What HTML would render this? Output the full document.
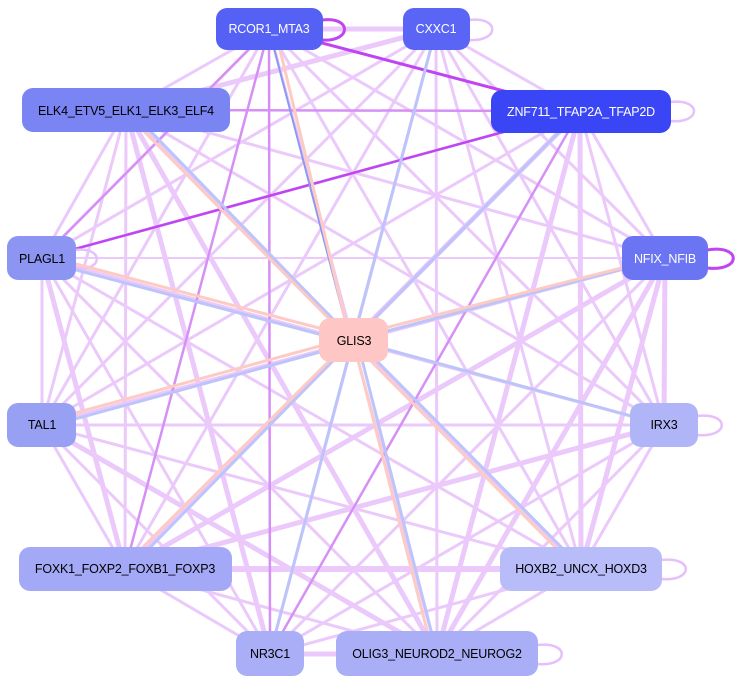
<!DOCTYPE html>
<html><head><meta charset="utf-8"><style>
html,body{margin:0;padding:0;background:#fff;}
svg{display:block;}
text{font-family:"Liberation Sans",sans-serif;font-size:12.5px;letter-spacing:-0.2px;}
</style></head><body>
<svg width="740" height="683" viewBox="0 0 740 683" xmlns="http://www.w3.org/2000/svg">
<g stroke="#ebc9fb" stroke-width="3" fill="none" stroke-linecap="round">
<line x1="269" y1="29" x2="436" y2="29" stroke-width="5"/>
<line x1="269" y1="29" x2="126" y2="110"/>
<line x1="269" y1="29" x2="42" y2="258"/>
<line x1="269" y1="29" x2="665" y2="258"/>
<line x1="269" y1="29" x2="42" y2="425"/>
<line x1="269" y1="29" x2="664" y2="425"/>
<line x1="269" y1="29" x2="581" y2="569"/>
<line x1="269" y1="29" x2="437" y2="654"/>
<line x1="436" y1="29" x2="126" y2="110" stroke-width="5"/>
<line x1="436" y1="29" x2="580" y2="111"/>
<line x1="436" y1="29" x2="42" y2="258"/>
<line x1="436" y1="29" x2="665" y2="258"/>
<line x1="436" y1="29" x2="42" y2="425"/>
<line x1="436" y1="29" x2="125" y2="569"/>
<line x1="436" y1="29" x2="581" y2="569"/>
<line x1="436" y1="29" x2="270" y2="654"/>
<line x1="436" y1="29" x2="437" y2="654"/>
<line x1="436" y1="29" x2="664" y2="425"/>
<line x1="126" y1="110" x2="42" y2="258"/>
<line x1="126" y1="110" x2="665" y2="258"/>
<line x1="126" y1="110" x2="42" y2="425"/>
<line x1="126" y1="110" x2="664" y2="425"/>
<line x1="126" y1="110" x2="125" y2="569"/>
<line x1="126" y1="110" x2="581" y2="569"/>
<line x1="126" y1="110" x2="270" y2="654" stroke-width="5"/>
<line x1="126" y1="110" x2="437" y2="654" stroke-width="5"/>
<line x1="580" y1="111" x2="42" y2="258"/>
<line x1="580" y1="111" x2="665" y2="258"/>
<line x1="580" y1="111" x2="42" y2="425"/>
<line x1="580" y1="111" x2="664" y2="425"/>
<line x1="580" y1="111" x2="125" y2="569" stroke-width="5"/>
<line x1="580" y1="111" x2="581" y2="569" stroke-width="5"/>
<line x1="580" y1="111" x2="437" y2="654" stroke-width="5"/>
<line x1="42" y1="258" x2="665" y2="258" stroke-width="2"/>
<line x1="42" y1="258" x2="42" y2="425"/>
<line x1="42" y1="258" x2="664" y2="425"/>
<line x1="42" y1="258" x2="125" y2="569" stroke-width="5"/>
<line x1="42" y1="258" x2="581" y2="569"/>
<line x1="42" y1="258" x2="270" y2="654"/>
<line x1="42" y1="258" x2="437" y2="654"/>
<line x1="665" y1="258" x2="664" y2="425" stroke-width="5"/>
<line x1="665" y1="258" x2="42" y2="425"/>
<line x1="665" y1="258" x2="125" y2="569" stroke-width="5"/>
<line x1="665" y1="258" x2="581" y2="569" stroke-width="5"/>
<line x1="665" y1="258" x2="270" y2="654"/>
<line x1="665" y1="258" x2="437" y2="654" stroke-width="5"/>
<line x1="42" y1="425" x2="664" y2="425"/>
<line x1="42" y1="425" x2="125" y2="569"/>
<line x1="42" y1="425" x2="581" y2="569"/>
<line x1="42" y1="425" x2="437" y2="654" stroke-width="5"/>
<line x1="42" y1="425" x2="270" y2="654"/>
<line x1="664" y1="425" x2="125" y2="569" stroke-width="5"/>
<line x1="664" y1="425" x2="581" y2="569"/>
<line x1="664" y1="425" x2="270" y2="654"/>
<line x1="664" y1="425" x2="437" y2="654"/>
<line x1="125" y1="569" x2="581" y2="569" stroke-width="6"/>
<line x1="125" y1="569" x2="270" y2="654"/>
<line x1="125" y1="569" x2="437" y2="654"/>
<line x1="581" y1="569" x2="270" y2="654"/>
<line x1="581" y1="569" x2="437" y2="654"/>
<line x1="270" y1="654" x2="437" y2="654" stroke-width="5"/>
</g>
<g stroke="#d690f5" stroke-width="2.5" fill="none">
<line x1="269" y1="29" x2="125" y2="569"/>
<line x1="269" y1="29" x2="270" y2="654"/>
<line x1="580" y1="111" x2="270" y2="654"/>
<line x1="126" y1="110" x2="580" y2="111"/>
<line x1="269" y1="29" x2="42" y2="258"/>
</g>
<g stroke="#c045f2" stroke-width="2.5" fill="none">
<line x1="580" y1="111" x2="42" y2="258"/>
<line x1="269" y1="29" x2="580" y2="111" stroke-width="3"/>
<path d="M322 20 C352 16 352 42 322 40" stroke-width="3"/>
<path d="M707 250 C742 244 742 272 707 268" stroke-width="3"/>
</g>
<g stroke="#e6c0fa" stroke-width="2.5" fill="none">
<path d="M469 20 C500 16 500 42 469 40"/>
<path d="M670 102 C702 98 702 124 670 121"/>
<path d="M75 250 C104 246 104 272 75 268"/>
<path d="M697 416 C730 412 730 438 697 435"/>
<path d="M661 560 C694 556 694 582 661 579"/>
<path d="M537 645 C570 641 570 667 537 664"/>
</g>
<g stroke="#bcc4fa" stroke-width="3" fill="none">
<line x1="436" y1="29" x2="353" y2="340"/>
<line x1="580" y1="111" x2="353" y2="340"/>
<line x1="665" y1="258" x2="353" y2="340"/>
<line x1="664" y1="425" x2="353" y2="340"/>
<line x1="270" y1="654" x2="353" y2="340"/>
<line x1="437" y1="654" x2="357" y2="340"/>
<line x1="583" y1="569" x2="356" y2="340"/>
<line x1="129" y1="569" x2="353" y2="340"/>
<line x1="42" y1="428" x2="353" y2="343"/>
<line x1="42" y1="261" x2="353" y2="343"/>
<line x1="130" y1="110" x2="353" y2="340"/>
</g>
<line x1="269" y1="29" x2="350" y2="340" stroke="#8b98f2" stroke-width="2"/>
<g stroke="#fdcbc4" stroke-width="3" fill="none">
<line x1="275" y1="29" x2="350" y2="340"/>
<line x1="661" y1="258" x2="353" y2="336"/>
<line x1="433" y1="654" x2="353" y2="340"/>
<line x1="577" y1="569" x2="350" y2="340"/>
<line x1="121" y1="569" x2="350" y2="340"/>
<line x1="42" y1="422" x2="353" y2="337"/>
<line x1="42" y1="255" x2="353" y2="337"/>
<line x1="123" y1="110" x2="350" y2="340"/>
</g>
<g stroke="none">
<rect x="216" y="8" width="107" height="42" rx="11" fill="#5560f5"/>
<rect x="403" y="8" width="67" height="42" rx="11" fill="#5a65f6"/>
<rect x="22" y="88" width="208" height="44" rx="11" fill="#7a84f2"/>
<rect x="491" y="90" width="180" height="43" rx="11" fill="#3a46f6"/>
<rect x="7" y="236" width="69" height="44" rx="11" fill="#8c95f2"/>
<rect x="622" y="236" width="86" height="44" rx="11" fill="#6b74f3"/>
<rect x="319" y="318" width="69" height="44" rx="11" fill="#fec6c4"/>
<rect x="7" y="403" width="69" height="44" rx="11" fill="#98a0f3"/>
<rect x="630" y="403" width="68" height="44" rx="11" fill="#b0b5f8"/>
<rect x="19" y="547" width="213" height="44" rx="11" fill="#a3a9f6"/>
<rect x="500" y="547" width="162" height="44" rx="11" fill="#b8bcf9"/>
<rect x="236" y="631" width="68" height="45" rx="11" fill="#a9aef6"/>
<rect x="336" y="631" width="202" height="45" rx="11" fill="#a9aef7"/>
</g>
<g text-anchor="middle">
<text x="269" y="33" fill="#fff">RCOR1_MTA3</text>
<text x="436" y="33" fill="#fff">CXXC1</text>
<text x="126" y="115" fill="#000">ELK4_ETV5_ELK1_ELK3_ELF4</text>
<text x="581" y="116" fill="#fff">ZNF711_TFAP2A_TFAP2D</text>
<text x="42" y="263" fill="#000">PLAGL1</text>
<text x="665" y="263" fill="#fff">NFIX_NFIB</text>
<text x="354" y="345" fill="#000">GLIS3</text>
<text x="42" y="429" fill="#000">TAL1</text>
<text x="664" y="429" fill="#000">IRX3</text>
<text x="125" y="573" fill="#000">FOXK1_FOXP2_FOXB1_FOXP3</text>
<text x="581" y="573" fill="#000">HOXB2_UNCX_HOXD3</text>
<text x="270" y="658" fill="#000">NR3C1</text>
<text x="437" y="658" fill="#000">OLIG3_NEUROD2_NEUROG2</text>
</g>
</svg>
</body></html>
